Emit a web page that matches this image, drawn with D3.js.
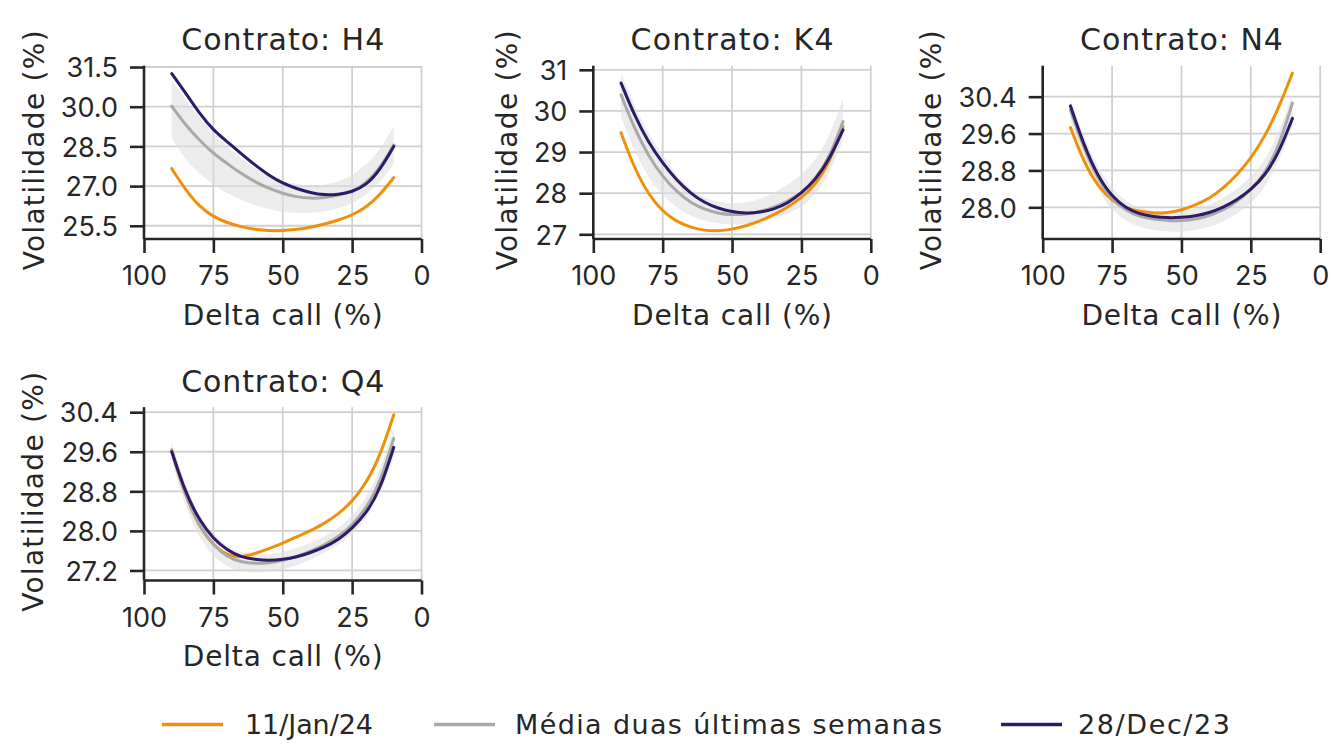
<!DOCTYPE html>
<html>
<head>
<meta charset="utf-8">
<script src="https://cdn.jsdelivr.net/npm/d3@7"></script>
<style>
  html, body { margin: 0; padding: 0; background: #ffffff; }
  svg { display: block; font-family: "DejaVu Sans", "Noto Sans", sans-serif; }
</style>
</head>
<body>
<svg id="chart" width="1335" height="754"></svg>
<script>
// ---------------- DATA ----------------
const deltas = [90, 85, 80, 75, 70, 65, 60, 55, 50, 45, 40, 35, 30, 25, 20, 15, 10];
const contracts = ["H4", "K4", "N4", "Q4"];
const seriesNames = ["11/Jan/24", "Média duas últimas semanas", "28/Dec/23"];
const xTicks = [100, 75, 50, 25, 0];

// Contrato H4
const h4Jan11  = [27.66, 26.85, 26.22, 25.84, 25.61, 25.46, 25.36, 25.31, 25.31, 25.36, 25.44, 25.56, 25.71, 25.90, 26.19, 26.66, 27.32];
const h4Media  = [30.02, 29.30, 28.73, 28.23, 27.85, 27.47, 27.16, 26.91, 26.72, 26.59, 26.53, 26.56, 26.66, 26.78, 27.10, 27.66, 28.55];
const h4Dec28  = [31.25, 30.52, 29.74, 29.11, 28.67, 28.23, 27.79, 27.41, 27.10, 26.90, 26.75, 26.66, 26.68, 26.78, 27.03, 27.60, 28.50];
const h4BandLo = [28.80, 27.98, 27.47, 27.03, 26.72, 26.47, 26.28, 26.12, 26.03, 25.99, 25.99, 26.03, 26.15, 26.34, 26.66, 27.10, 27.85];
const h4BandHi = [31.00, 30.24, 29.61, 28.98, 28.48, 28.04, 27.66, 27.41, 27.20, 27.06, 27.01, 27.03, 27.16, 27.41, 27.79, 28.36, 29.26];
const h4YTicks = [25.5, 27.0, 28.5, 30.0, 31.5];

// Contrato K4
const k4Jan11  = [29.47, 28.57, 27.96, 27.55, 27.31, 27.17, 27.09, 27.08, 27.12, 27.20, 27.32, 27.47, 27.66, 27.88, 28.20, 28.73, 29.62];
const k4Media  = [30.39, 29.54, 28.89, 28.40, 28.04, 27.77, 27.61, 27.51, 27.47, 27.49, 27.55, 27.65, 27.80, 28.00, 28.34, 28.85, 29.74];
const k4Dec28  = [30.68, 29.86, 29.22, 28.73, 28.32, 28.00, 27.77, 27.63, 27.55, 27.51, 27.53, 27.61, 27.75, 28.00, 28.32, 28.81, 29.54];
const k4BandLo = [29.86, 29.00, 28.35, 27.95, 27.65, 27.45, 27.33, 27.26, 27.23, 27.25, 27.30, 27.38, 27.50, 27.65, 27.95, 28.45, 29.30];
const k4BandHi = [30.92, 30.10, 29.45, 28.90, 28.45, 28.10, 27.88, 27.78, 27.75, 27.77, 27.85, 28.00, 28.20, 28.45, 28.80, 29.35, 30.31];
const k4YTicks = [27, 28, 29, 30, 31];

// Contrato N4
const n4Jan11  = [29.73, 28.95, 28.45, 28.14, 27.98, 27.91, 27.87, 27.88, 27.94, 28.05, 28.19, 28.41, 28.70, 29.06, 29.53, 30.15, 30.91];
const n4Media  = [30.11, 29.25, 28.60, 28.18, 27.93, 27.80, 27.74, 27.71, 27.71, 27.74, 27.81, 27.94, 28.12, 28.37, 28.72, 29.30, 30.26];
const n4Dec28  = [30.20, 29.32, 28.66, 28.23, 27.98, 27.85, 27.80, 27.77, 27.78, 27.81, 27.88, 28.00, 28.16, 28.38, 28.68, 29.17, 29.93];
const n4BandLo = [29.90, 29.00, 28.35, 27.93, 27.70, 27.57, 27.50, 27.47, 27.47, 27.50, 27.57, 27.68, 27.85, 28.08, 28.42, 28.98, 29.75];
const n4BandHi = [30.36, 29.50, 28.85, 28.40, 28.13, 27.98, 27.92, 27.90, 27.92, 27.97, 28.05, 28.20, 28.40, 28.65, 29.00, 29.60, 30.47];
const n4YTicks = [28.0, 28.8, 29.6, 30.4];

// Contrato Q4
const q4Jan11  = [29.60, 28.69, 28.08, 27.71, 27.50, 27.46, 27.54, 27.64, 27.75, 27.88, 28.00, 28.15, 28.34, 28.59, 28.96, 29.50, 30.35];
const q4Media  = [29.64, 28.69, 28.08, 27.71, 27.47, 27.37, 27.34, 27.35, 27.40, 27.48, 27.59, 27.71, 27.88, 28.11, 28.45, 28.96, 29.87];
const q4Dec28  = [29.60, 28.76, 28.21, 27.84, 27.61, 27.47, 27.42, 27.40, 27.42, 27.47, 27.56, 27.67, 27.82, 28.05, 28.35, 28.82, 29.69];
const q4BandLo = [29.43, 28.45, 27.85, 27.48, 27.27, 27.18, 27.15, 27.17, 27.22, 27.30, 27.42, 27.55, 27.72, 27.92, 28.25, 28.72, 29.50];
const q4BandHi = [29.80, 28.90, 28.30, 27.92, 27.68, 27.56, 27.52, 27.53, 27.57, 27.65, 27.75, 27.88, 28.05, 28.30, 28.65, 29.20, 30.08];
const q4YTicks = [27.2, 28.0, 28.8, 29.6, 30.4];

// ---------------- LAYOUT / STYLE ----------------
const colors = ["#f0900a", "#a9a9a9", "#2e1a66"];
const textColor = "#262626";
const panels = [
  { name: contracts[0], series: [h4Jan11, h4Media, h4Dec28], lo: h4BandLo, hi: h4BandHi, ticks: h4YTicks, fmt: ".1f", dom: [25.0, 31.55], col: 0, row: 0 },
  { name: contracts[1], series: [k4Jan11, k4Media, k4Dec28], lo: k4BandLo, hi: k4BandHi, ticks: k4YTicks, fmt: "d",   dom: [26.886, 31.1], col: 1, row: 0 },
  { name: contracts[2], series: [n4Jan11, n4Media, n4Dec28], lo: n4BandLo, hi: n4BandHi, ticks: n4YTicks, fmt: ".1f", dom: [27.313, 31.072], col: 2, row: 0 },
  { name: contracts[3], series: [q4Jan11, q4Media, q4Dec28], lo: q4BandLo, hi: q4BandHi, ticks: q4YTicks, fmt: ".1f", dom: [26.997, 30.501], col: 0, row: 1 }
];
const colLeft = [144, 593.3, 1042.7];
const pw = 277.5, ph = 173.3;
const rowTop = [65.7, 407.2];
const tickFont = "Inter, 'Open Sans', sans-serif";

const svg = d3.select("#chart");

panels.forEach(p => {
  const left = colLeft[p.col], top = rowTop[p.row];
  const g = svg.append("g").attr("transform", `translate(${left},${top})`);
  const x = d3.scaleLinear().domain([100, 0]).range([0, pw]);
  const y = d3.scaleLinear().domain(p.dom).range([ph, 0]);

  // grid
  g.append("g").selectAll("line").data(xTicks).join("line")
    .attr("x1", d => x(d)).attr("x2", d => x(d)).attr("y1", 0).attr("y2", ph)
    .attr("stroke", "#d0d0d0").attr("stroke-width", 1.8);
  g.append("g").selectAll("line").data(p.ticks).join("line")
    .attr("x1", 0).attr("x2", pw).attr("y1", d => y(d)).attr("y2", d => y(d))
    .attr("stroke", "#d0d0d0").attr("stroke-width", 1.8);

  const curve = d3.curveBasis;
  // band
  const area = d3.area().x((d, i) => x(deltas[i])).y0((d, i) => y(p.lo[i])).y1((d, i) => y(p.hi[i])).curve(curve);
  g.append("path").datum(deltas).attr("d", area).attr("fill", "#dcdcdc").attr("fill-opacity", 0.55);

  // lines
  const line = d3.line().x((d, i) => x(deltas[i])).y(d => y(d)).curve(curve);
  p.series.forEach((s, k) => {
    g.append("path").datum(s).attr("d", line).attr("fill", "none")
      .attr("stroke", colors[k]).attr("stroke-width", 3).attr("stroke-linecap", "round");
  });

  // axes
  const xAxis = g.append("g").attr("transform", `translate(0,${ph})`)
    .call(d3.axisBottom(x).tickValues(xTicks).tickSize(14).tickPadding(6).tickFormat(d3.format("d")));
  const yAxis = g.append("g")
    .call(d3.axisLeft(y).tickValues(p.ticks).tickSize(14).tickPadding(12).tickFormat(d3.format(p.fmt)));
  [xAxis, yAxis].forEach(a => {
    a.select(".domain").attr("stroke", textColor).attr("stroke-width", 2.6);
    a.selectAll(".tick line").attr("stroke", textColor).attr("stroke-width", 2.6);
    a.selectAll(".tick text").attr("fill", textColor).attr("font-size", 27).attr("font-family", tickFont);
  });
  xAxis.select(".domain").attr("d", `M0,0H${pw}`);
  yAxis.select(".domain").attr("d", `M0,0V${ph}`);
  xAxis.selectAll(".tick text").attr("y", 46).attr("dy", 0);
  yAxis.selectAll(".tick text").attr("dy", "0.36em");

  // title
  g.append("text").attr("x", pw / 2).attr("y", 50 - 65.7)
    .attr("text-anchor", "middle").attr("fill", textColor).attr("font-size", 30)
    .attr("textLength", 203).attr("lengthAdjust", "spacing").text("Contrato: " + p.name);
  // x label
  g.append("text").attr("x", pw / 2).attr("y", 325 - 65.7)
    .attr("text-anchor", "middle").attr("fill", textColor).attr("font-size", 28)
    .attr("textLength", 200).attr("lengthAdjust", "spacing").text("Delta call (%)");
  // y label, placed left of tick labels
  let minX = 0;
  yAxis.selectAll(".tick text").each(function () {
    const b = this.getBBox();
    minX = Math.min(minX, b.x);
  });
  g.append("text").attr("transform", `translate(${minX - 17},${ph / 2 - 2}) rotate(-90)`)
    .attr("text-anchor", "middle").attr("fill", textColor).attr("font-size", 28)
    .attr("textLength", 240).attr("lengthAdjust", "spacing").text("Volatilidade (%)");
});

// legend
const legendItems = [
  { lx: 162, tx: 245, w: 128 },
  { lx: 434, tx: 515, w: 427 },
  { lx: 1001, tx: 1078, w: 152 }
];
const lg = svg.append("g");
seriesNames.forEach((name, k) => {
  const it = legendItems[k];
  lg.append("line").attr("x1", it.lx).attr("x2", it.lx + 61).attr("y1", 724.5).attr("y2", 724.5)
    .attr("stroke", colors[k]).attr("stroke-width", 3.5);
  lg.append("text").attr("x", it.tx).attr("y", 734).attr("fill", textColor).attr("font-size", 27)
    .attr("textLength", it.w).attr("lengthAdjust", "spacing").text(name);
});
</script>
</body>
</html>
